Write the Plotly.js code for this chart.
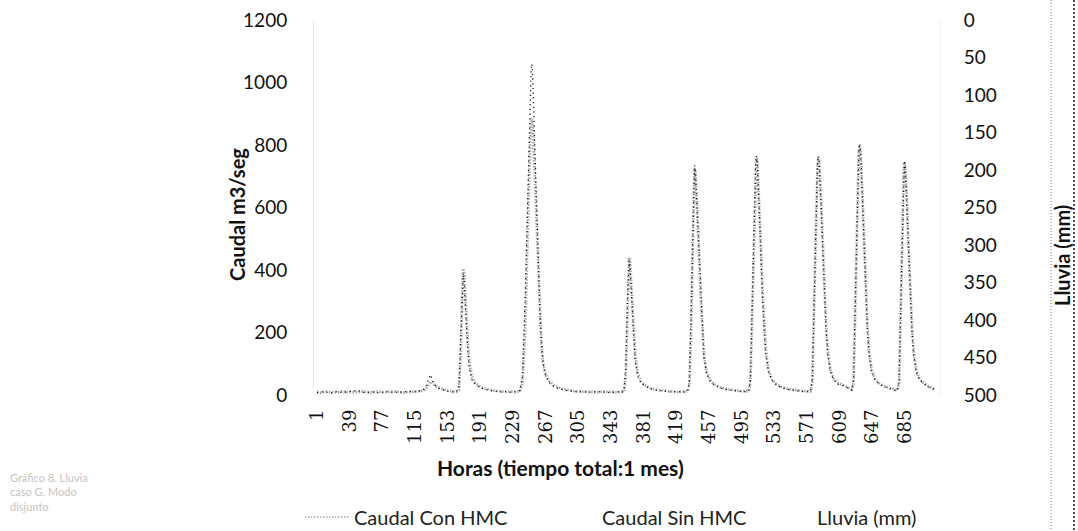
<!DOCTYPE html>
<html>
<head>
<meta charset="utf-8">
<script src="https://cdn.plot.ly/plotly-3.0.1.min.js"></script>
<style>
  html, body { margin: 0; padding: 0; background: #ffffff; }
  #chart { width: 1078px; height: 531px; }
</style>
</head>
<body>
<div id="chart"></div>
<script>
// ---- Data ----
const horas = [
  1,6,12,18,24,30,36,42,48,54,60,66,72,78,84,90,96,102,108,114,120,
  124,128,131,133,135,138,142,147,152,158,163,
  166,168,170,171,172,174,176,178,181,185,190,196,202,208,214,220,226,232,
  237,240,243,245,247,249,250,251,252,254,256,258,260,262,264,267,271,276,282,288,295,302,310,318,326,334,342,350,356,
  358,360,362,363,364,365,367,369,371,374,378,383,389,396,404,412,420,427,432,
  434,436,438,439,440,441,443,445,447,449,451,454,458,463,469,476,484,492,499,503,
  505,507,509,511,512,513,515,517,519,521,523,526,530,535,541,548,556,564,571,575,
  577,579,581,583,584,585,587,589,591,593,595,598,602,607,613,619,623,
  625,627,629,631,632,633,635,637,639,641,643,646,650,655,661,667,673,676,
  678,680,682,683,684,685,687,689,691,693,695,698,702,707,712,716,720
];

const caudalSinHMC = [
  8,10,9,7,11,8,10,12,15,9,8,10,7,9,11,8,10,9,12,10,11,
  14,30,55,65,48,32,22,16,12,10,11,
  20,150,330,390,370,260,160,90,50,35,25,18,14,12,10,11,9,10,
  14,60,300,520,780,960,1040,1060,1000,820,620,430,280,170,100,60,40,28,20,16,13,11,10,9,11,10,8,10,9,
  12,80,300,400,430,410,300,190,110,60,38,28,20,15,12,10,11,9,12,
  40,250,520,660,735,720,600,450,310,200,120,70,45,32,24,18,14,12,11,13,
  50,280,560,730,765,745,620,460,320,210,130,75,48,33,24,18,14,12,11,13,
  50,290,580,740,765,745,620,460,320,210,130,75,48,35,30,22,16,
  50,300,600,780,805,785,650,480,330,210,130,75,48,35,26,20,15,14,
  50,300,580,700,750,735,610,450,310,200,125,72,48,35,26,20,17
];

const caudalConHMC = [
  10,7,11,9,8,12,9,10,9,11,10,8,11,9,10,12,9,8,10,11,12,
  13,20,35,42,40,30,24,18,14,12,10,
  15,120,330,405,390,280,190,110,60,38,28,20,16,14,12,10,11,10,
  12,40,200,420,650,820,870,885,860,720,560,400,260,160,100,65,45,32,24,18,15,12,11,10,9,11,10,9,11,
  12,60,260,380,440,425,320,210,130,70,42,30,22,17,14,12,10,11,12,
  30,200,480,640,725,715,610,470,330,215,130,75,48,34,25,19,15,13,12,12,
  40,240,520,720,760,750,640,490,340,225,140,80,50,35,26,20,16,13,12,12,
  40,250,540,730,760,750,640,480,340,225,140,80,52,38,32,24,18,
  40,260,570,770,795,780,660,500,350,230,140,80,52,37,28,22,16,15,
  40,260,550,690,745,735,630,470,330,215,135,78,50,37,28,22,18
];

const lluviaHoras = [1, 720];
const lluviaMm = [0, 0];

const xTickVals = [1,39,77,115,153,191,229,267,305,343,381,419,457,495,533,571,609,647,685];
const xTickText = ["1","39","77","115","153","191","229","267","305","343","381","419","457","495","533","571","609","647","685"];
const yTickVals = [0,200,400,600,800,1000,1200];
const y2TickVals = [0,50,100,150,200,250,300,350,400,450,500];

const serieNombres = ["Caudal Con HMC", "Caudal Sin HMC", "Lluvia (mm)"];
const tituloX = "Horas (tiempo total:1 mes)";
const tituloY = "Caudal m3/seg";
const tituloY2 = "Lluvia (mm)";

// ---- Layout geometry (pixels) ----
const W = 1078, H = 531;
const M = { l: 314, r: 138, t: 20, b: 136 };
const PW = W - M.l - M.r, PH = H - M.t - M.b;
const px = x => (x - M.l) / PW;          // pixel x -> paper x
const py = y => (H - M.b - y) / PH;      // pixel y -> paper y

const sans = "Lato, 'Open Sans', sans-serif";

const traces = [
  {
    type: "scatter", mode: "lines", name: serieNombres[0],
    x: horas, y: caudalConHMC, yaxis: "y",
    line: { color: "#a8a8a8", width: 2.8, dash: "1.5px,1.5px" },
    showlegend: false, hoverinfo: "skip"
  },
  {
    type: "scatter", mode: "lines", name: serieNombres[1],
    x: horas, y: caudalSinHMC, yaxis: "y",
    line: { color: "#111111", width: 1.3, dash: "1.2px,3.5px" },
    showlegend: false, hoverinfo: "skip"
  },
  {
    type: "bar", name: serieNombres[2],
    x: lluviaHoras, y: lluviaMm, yaxis: "y2",
    marker: { color: "rgba(0,0,0,0)" },
    showlegend: false, hoverinfo: "skip"
  }
];

const layout = {
  width: W, height: H,
  margin: M,
  paper_bgcolor: "#ffffff",
  plot_bgcolor: "#ffffff",
  showlegend: false,
  font: { family: sans, color: "#111111" },
  xaxis: {
    range: [-2.5, 725.5],
    tickmode: "array", tickvals: xTickVals, ticktext: xTickText,
    tickangle: -90,
    tickfont: { family: "'DejaVu Serif', serif", size: 18, color: "#111111" },
    showgrid: false, zeroline: false, showline: false, ticks: "",
    ticklabelstandoff: 10
  },
  yaxis: {
    range: [0, 1200],
    tickmode: "array", tickvals: yTickVals,
    tickfont: { family: sans, size: 19, color: "#111111" },
    showgrid: false, zeroline: false,
    showline: true, linecolor: "#ececec", linewidth: 1,
    ticks: "", ticklabelstandoff: 22
  },
  yaxis2: {
    overlaying: "y", side: "right",
    range: [500, 0],
    tickmode: "array", tickvals: y2TickVals,
    tickfont: { family: sans, size: 19, color: "#111111" },
    showgrid: false, zeroline: false,
    showline: true, linecolor: "#f0f0f0", linewidth: 1,
    ticks: "", ticklabelstandoff: 19
  },
  annotations: [
    { text: "<b>" + tituloY + "</b>", xref: "paper", yref: "paper",
      x: px(237), y: py(215), textangle: -90, showarrow: false,
      xanchor: "center", yanchor: "middle",
      font: { family: sans, size: 20, color: "#111111" } },
    { text: "<b>" + tituloX + "</b>", xref: "paper", yref: "paper",
      x: px(560), y: py(467), showarrow: false,
      xanchor: "center", yanchor: "middle",
      font: { family: sans, size: 21, color: "#111111" } },
    { text: "<b>" + tituloY2 + "</b>", xref: "paper", yref: "paper",
      x: px(1062), y: py(256), textangle: -90, showarrow: false,
      xanchor: "center", yanchor: "middle",
      font: { family: sans, size: 20, color: "#111111" } },
    // legend texts
    { text: serieNombres[0], xref: "paper", yref: "paper",
      x: px(352), y: py(517), showarrow: false, xanchor: "left", yanchor: "middle",
      font: { family: sans, size: 20, color: "#222222" } },
    { text: serieNombres[1], xref: "paper", yref: "paper",
      x: px(600), y: py(517), showarrow: false, xanchor: "left", yanchor: "middle",
      font: { family: sans, size: 20, color: "#222222" } },
    { text: serieNombres[2], xref: "paper", yref: "paper",
      x: px(815), y: py(517), showarrow: false, xanchor: "left", yanchor: "middle",
      font: { family: sans, size: 20, color: "#222222" } },
    // faint caption at bottom-left
    { text: "Gráfico 8. Lluvia<br>caso G. Modo<br>disjunto", xref: "paper", yref: "paper",
      x: px(8), y: py(492), showarrow: false, xanchor: "left", yanchor: "middle", align: "left",
      font: { family: sans, size: 11, color: "#c4c4c4" } }
  ],
  shapes: [
    // legend sample for Caudal Con HMC
    { type: "line", xref: "paper", yref: "paper",
      x0: px(305), x1: px(350), y0: py(517), y1: py(517),
      line: { color: "#a8a8a8", width: 1.6, dash: "1.5px,1.5px" } },
    // scan border dotted lines on the right
    { type: "line", xref: "paper", yref: "paper",
      x0: px(1051), x1: px(1051), y0: py(0), y1: py(531),
      line: { color: "#777777", width: 1, dash: "1px,2px" } },
    { type: "line", xref: "paper", yref: "paper",
      x0: px(1074), x1: px(1074), y0: py(0), y1: py(531),
      line: { color: "#222222", width: 1.6, dash: "2px,2px" } }
  ]
};

Plotly.newPlot("chart", traces, layout, { displayModeBar: false, staticPlot: true });
</script>
</body>
</html>
